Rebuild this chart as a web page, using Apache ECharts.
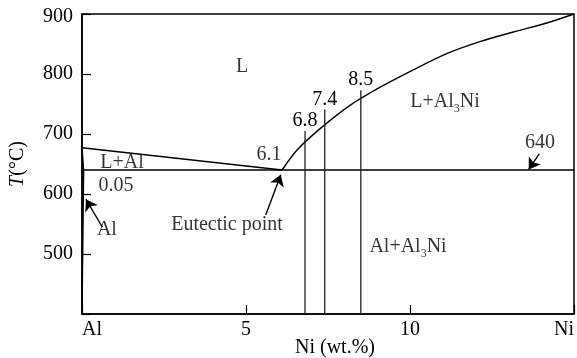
<!DOCTYPE html>
<html>
<head>
<meta charset="utf-8">
<script src="https://cdn.jsdelivr.net/npm/echarts@6/dist/echarts.min.js"></script>
<style>
  html, body { margin: 0; padding: 0; background: #fff; }
  #chart { width: 577px; height: 358px; }
</style>
</head>
<body>
<div id="chart"></div>
<script>
// Al–Ni phase diagram, aluminium-rich corner
const FONT = "'Liberation Serif','Times New Roman',serif";

// axis ticks
const xTickValues = [0, 5, 10, 15];
const xTickLabels = ['Al', '5', '10', 'Ni'];
const yMin = 400, yMax = 900, yStep = 100;

// key compositions (wt.% Ni) and temperatures (°C)
const eutecticComp = 6.1;
const eutecticTemp = 640;
const alSolubility = 0.05;
const alMeltTemp = 677;

// phase boundaries
const liquidusAl = [[0, alMeltTemp], [eutecticComp, eutecticTemp]];
const liquidusNi = [
  [6.1, 640], [6.55, 673], [7.26, 709], [8.15, 747], [9.09, 778],
  [10.1, 807], [11.12, 834], [12.13, 854], [13.15, 870], [14.17, 885], [15, 900]
];
const solidusAl = [[0, alMeltTemp], [alSolubility, eutecticTemp], [0, 400]];
const eutecticLine = [[alSolubility, eutecticTemp], [15, eutecticTemp]];

// alloy compositions drawn as verticals
const alloyComps = [6.8, 7.4, 8.5];
const alloyTops = [705, 741, 773];

// region names and notes
const regionTexts = [
  { at: [4.88, 812], text: 'L' },
  { at: [1.22, 652], text: 'L+Al' },
  { at: [11.07, 753], text: 'L+Al{s|3}Ni' },
  { at: [9.94, 512], text: 'Al+Al{s|3}Ni' },
  { at: [0.76, 540], text: 'Al' },
  { at: [4.42, 548], text: 'Eutectic point' },
  { at: [1.04, 613], text: String(alSolubility) },
  { at: [5.7, 666], text: String(eutecticComp) },
  { at: [13.96, 686], text: String(eutecticTemp) }
];

// pointer arrows [tail, head]
const arrows = [
  [[0.62, 545], [0.12, 591]],
  [[5.6, 565], [6.06, 632]],
  [[13.94, 667], [13.62, 641]]
];

const lineStyle = { color: '#000', width: 1.4 };
const textBase = { fontFamily: FONT, fontSize: 20, color: '#000' };
const rich = { s: { fontFamily: FONT, fontSize: 12, color: '#000', padding: [14, 0, 0, 0] } };

const series = [
  { type: 'line', data: liquidusAl, symbol: 'none', lineStyle, silent: true },
  { type: 'line', data: liquidusNi, symbol: 'none', smooth: 0.3, lineStyle, silent: true },
  { type: 'line', data: solidusAl, symbol: 'none', lineStyle, silent: true },
  { type: 'line', data: eutecticLine, symbol: 'none', lineStyle, silent: true }
];

alloyComps.forEach((c, i) => {
  series.push({
    type: 'line',
    symbol: 'circle',
    symbolSize: 0,
    showSymbol: true,
    lineStyle: { color: '#222', width: 1.3 },
    data: [
      { value: [c, yMin] },
      {
        value: [c, alloyTops[i]],
        label: {
          show: true, position: 'top', distance: 0,
          formatter: String(c), ...textBase
        }
      }
    ],
    silent: true
  });
});

series.push({
  type: 'scatter',
  symbolSize: 0,
  silent: true,
  data: regionTexts.map(t => ({ value: t.at, name: t.text })),
  label: {
    show: true, position: 'inside',
    formatter: p => p.name,
    ...textBase, rich
  }
});

series.push({
  type: 'lines',
  coordinateSystem: 'cartesian2d',
  symbol: ['none', 'arrow'],
  symbolSize: [7, 11],
  lineStyle: { color: '#000', width: 1.4, opacity: 1 },
  data: arrows.map(a => ({ coords: a })),
  silent: true
});

const chart = echarts.init(document.getElementById('chart'), null, { renderer: 'canvas' });
chart.setOption({
  animation: false,
  backgroundColor: '#fff',
  grid: {
    left: 82, right: 3, top: 14, bottom: 44,
    outerBoundsMode: 'none', containLabel: false,
    show: true, borderColor: '#000', borderWidth: 1.5
  },
  xAxis: {
    type: 'value', min: xTickValues[0], max: xTickValues[xTickValues.length - 1], interval: 5,
    axisLine: { lineStyle: { color: '#000', width: 1.5 } },
    axisTick: { inside: true, length: 9, lineStyle: { color: '#000', width: 1.2 } },
    splitLine: { show: false },
    axisLabel: {
      ...textBase, margin: 6, showMinLabel: true, showMaxLabel: true,
      alignMinLabel: 'left', alignMaxLabel: 'right',
      formatter: v => {
        const i = xTickValues.indexOf(v);
        return i >= 0 ? xTickLabels[i] : '';
      }
    },
    name: 'Ni (wt.%)', nameLocation: 'middle', nameGap: 24, nameMoveOverlap: false,
    nameTextStyle: { ...textBase, padding: [0, 0, 0, 14] }
  },
  yAxis: {
    type: 'value', min: yMin, max: yMax, interval: yStep,
    axisLine: { lineStyle: { color: '#000', width: 1.5 } },
    axisTick: { inside: true, length: 9, lineStyle: { color: '#000', width: 1.2 } },
    splitLine: { show: false },
    axisLabel: {
      ...textBase, margin: 9,
      formatter: v => (v === yMin ? '' : v === yMax ? '{top|' + v + '}' : String(v)),
      rich: { top: { ...textBase, padding: [6, 0, 0, 0] } }
    },
    name: '{i|T}(°C)', nameLocation: 'middle', nameGap: 54, nameMoveOverlap: false,
    nameTextStyle: { ...textBase, rich: { i: { ...textBase, fontStyle: 'italic' } } }
  },
  series
});
</script>
</body>
</html>
